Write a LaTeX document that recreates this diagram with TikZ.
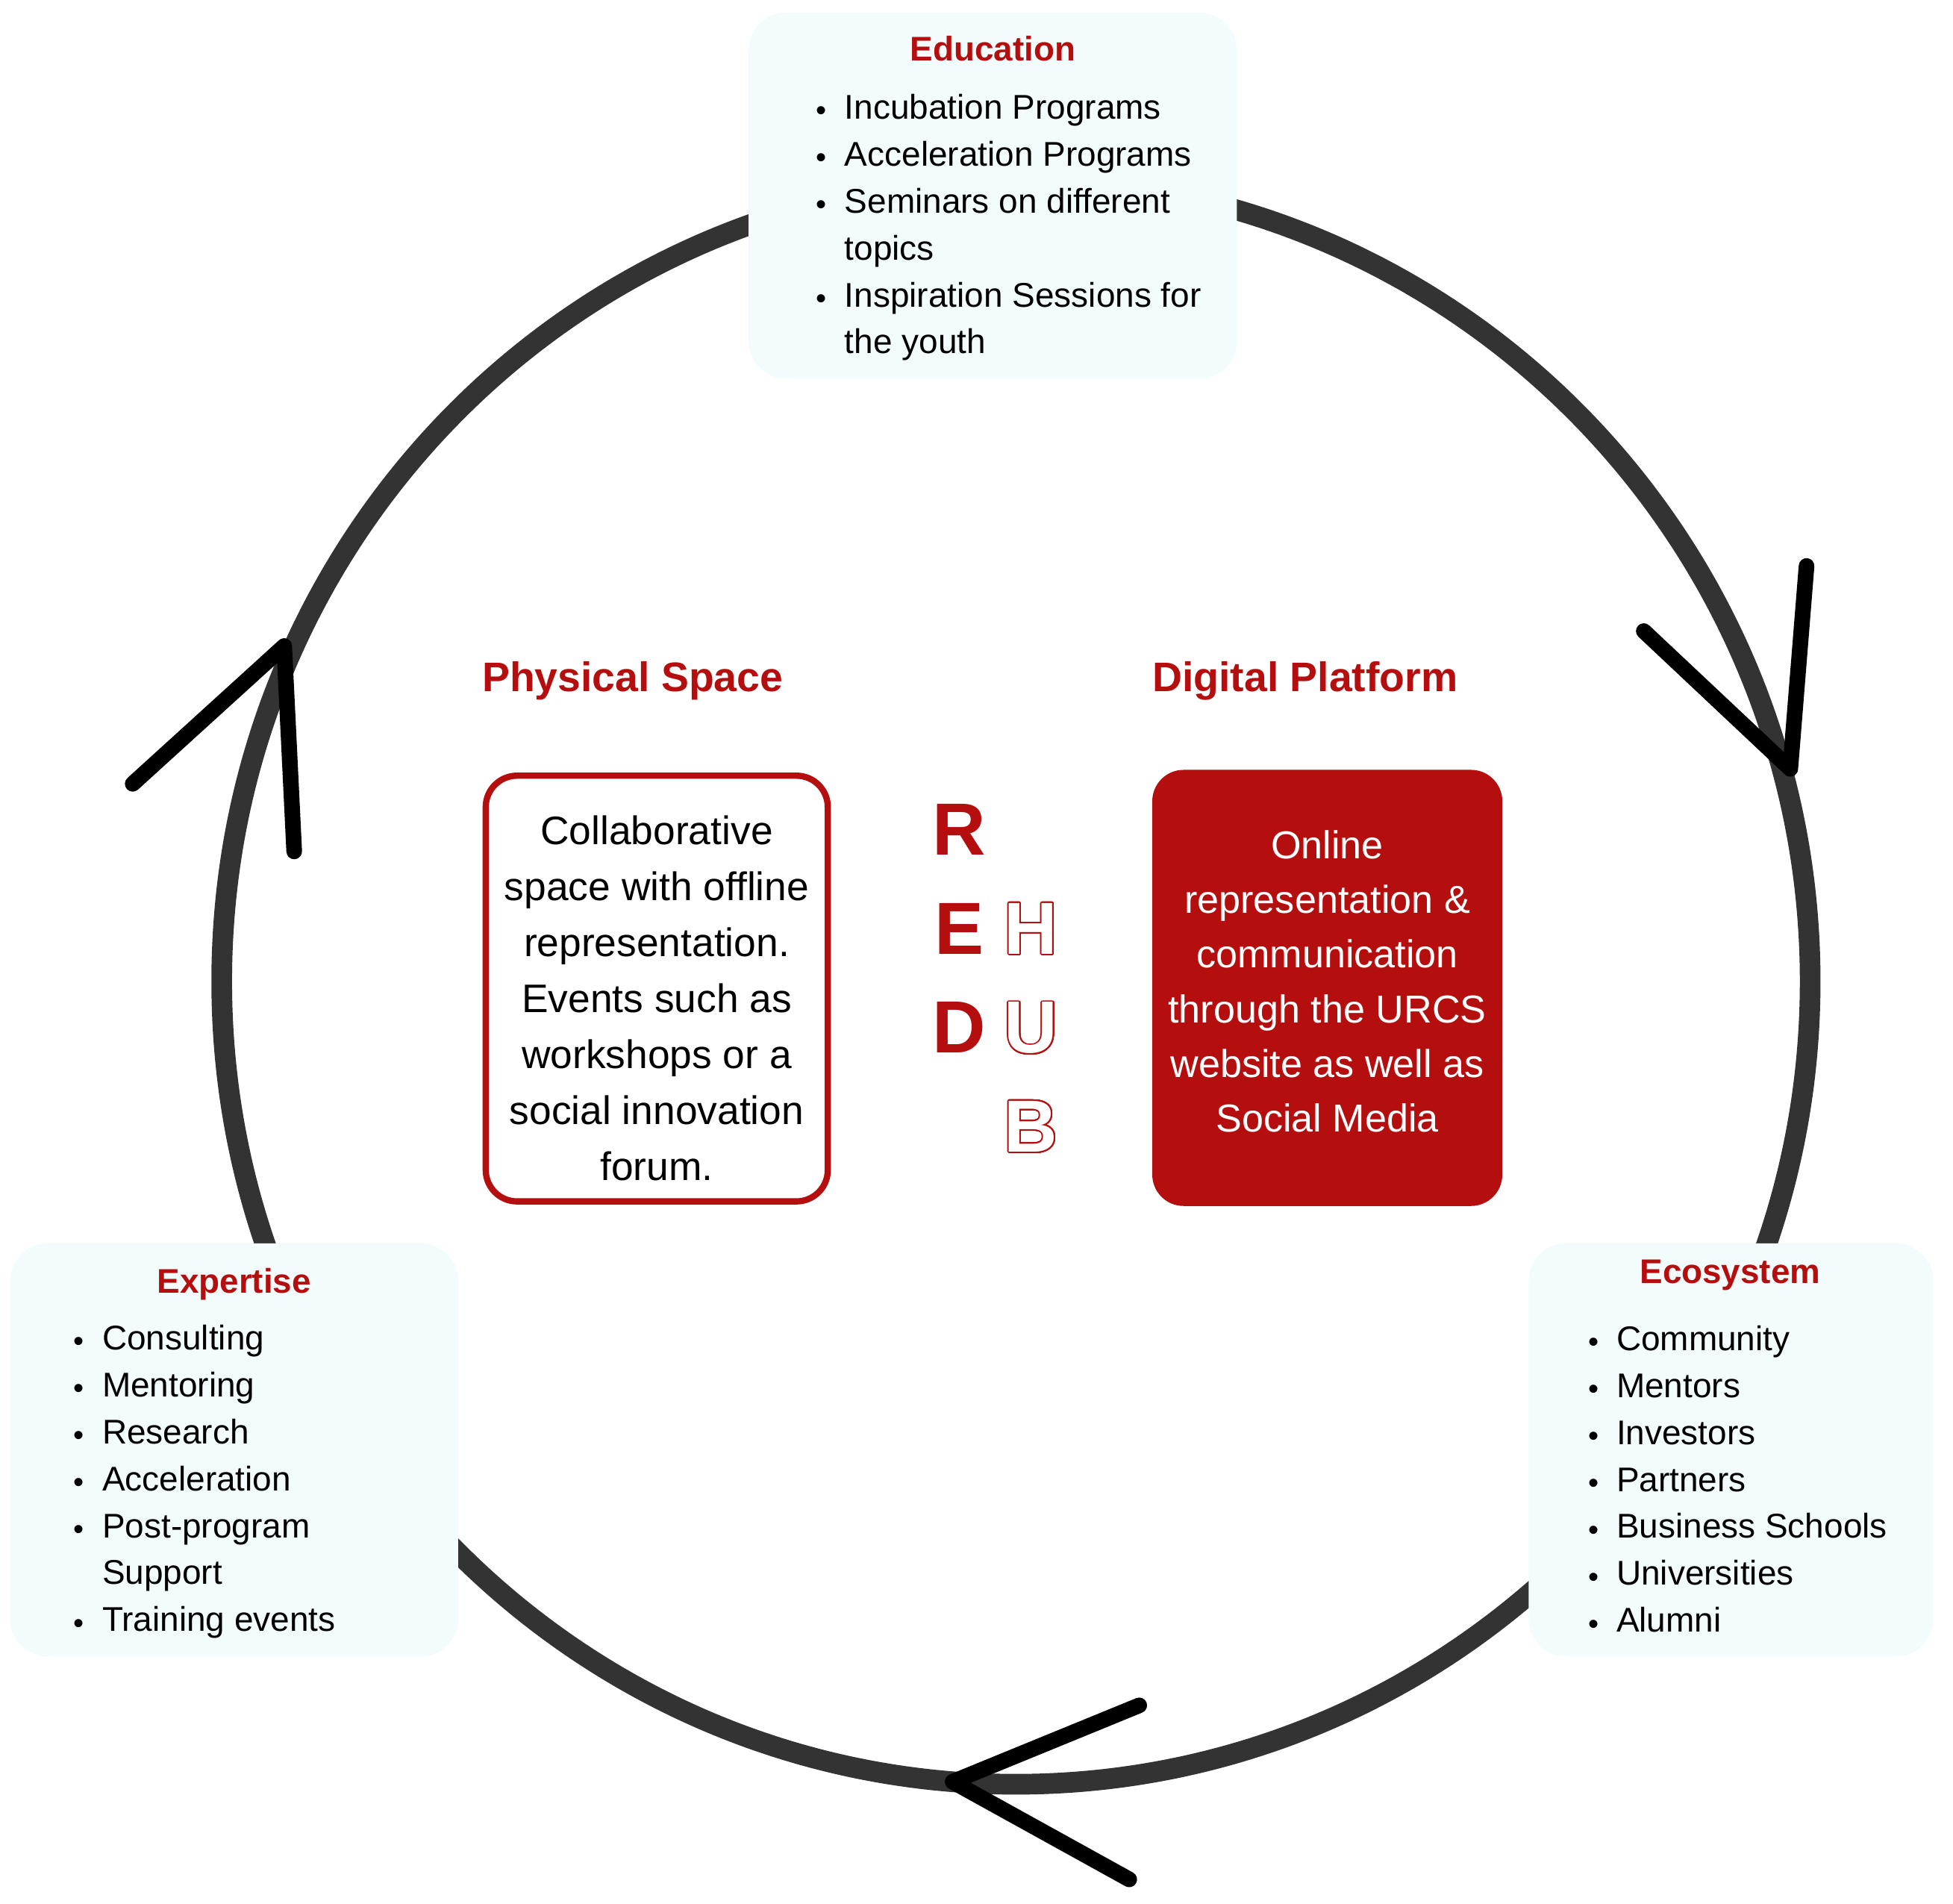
\documentclass[tikz,border=0pt]{standalone}
\usepackage{fontspec}
\setmainfont{Liberation Sans}
\usepackage{contour}
\contourlength{1.05pt}
\contournumber{32}
\definecolor{redc}{RGB}{181,14,14}
\definecolor{ringc}{RGB}{51,51,51}
\definecolor{boxc}{RGB}{242,252,253}
\newcommand\itembul{\llap{\makebox[37pt][c]{\raisebox{-1.5pt}{\fontsize{24}{24}\selectfont •}}}}
\begin{document}
\begin{tikzpicture}[x=1pt,y=-1pt,
  ring/.style={draw=ringc, line width=16.5pt},
  arrowhd/.style={draw=black, line width=12.5pt, line cap=round, line join=round},
  infobox/.style={rectangle, rounded corners=30pt, fill=boxc, draw=none, inner sep=0pt},
  boxtitle/.style={text=redc, font=\bfseries\fontsize{27.3}{30}\selectfont, inner sep=0pt, anchor=base},
  listtext/.style={font=\fontsize{27.4}{37.5}\selectfont, inner sep=0pt, anchor=base west},
  sectitle/.style={text=redc, font=\bfseries\fontsize{33}{36}\selectfont, inner sep=0pt, anchor=base west},
  bigletter/.style={text=redc, font=\bfseries\fontsize{59}{60}\selectfont, inner sep=0pt, anchor=base},
  hollowletter/.style={font=\bfseries\fontsize{59}{60}\selectfont, inner sep=0pt, anchor=base}
]
\useasboundingbox (0,0) rectangle (1560,1520.6);

% ring
\coordinate (ringcenter) at (811.5,783.8);
\draw[ring] (ringcenter) ellipse [x radius=634.4pt, y radius=641.2pt];

% boxes
\node[infobox, minimum width=390pt, minimum height=292.5pt] (edu) at (793,156.25) {};
\node[infobox, minimum width=358pt, minimum height=330pt] (exp) at (187,1158) {};
\node[infobox, minimum width=323.3pt, minimum height=330pt] (eco) at (1382.65,1158) {};

\node[rectangle, rounded corners=25pt, draw=redc, line width=5pt, fill=white,
      minimum width=273.2pt, minimum height=340pt, inner sep=0pt] (phys) at (524.6,789.5) {};
\node[rectangle, rounded corners=25pt, fill=redc, draw=none,
      minimum width=279.6pt, minimum height=348.3pt, inner sep=0pt] (digi) at (1060.2,789) {};

% arrowheads
\coordinate (la1) at (106,626);
\coordinate (lat) at (227,516);
\coordinate (la2) at (235,680);
\draw[arrowhd] (la1) -- (lat) -- (la2);
\coordinate (ra1) at (1313,504);
\coordinate (rat) at (1430,614);
\coordinate (ra2) at (1443,452);
\draw[arrowhd] (ra1) -- (rat) -- (ra2);
\coordinate (ba1) at (910,1362);
\coordinate (bat) at (761,1423);
\coordinate (ba2) at (902,1501);
\draw[arrowhd] (ba1) -- (bat) -- (ba2);

% Education
\node[boxtitle] (edutitle) at (793,48.7) {Education};
\node[listtext] (edulist) at (674.5,95) {\begin{tabular}[t]{@{}l@{}}
\itembul Incubation Programs\\
\itembul Acceleration Programs\\
\itembul Seminars on different\\
topics\\
\itembul Inspiration Sessions for\\
the youth
\end{tabular}};

% Expertise
\node[boxtitle] (exptitle) at (187,1033) {Expertise};
\node[listtext] (explist) at (81.5,1078) {\begin{tabular}[t]{@{}l@{}}
\itembul Consulting\\
\itembul Mentoring\\
\itembul Research\\
\itembul Acceleration\\
\itembul Post-program\\
Support\\
\itembul Training events
\end{tabular}};

% Ecosystem
\node[boxtitle] (ecotitle) at (1382,1025) {Ecosystem};
\node[listtext] (ecolist) at (1291,1078.5) {\begin{tabular}[t]{@{}l@{}}
\itembul Community\\
\itembul Mentors\\
\itembul Investors\\
\itembul Partners\\
\itembul Business Schools\\
\itembul Universities\\
\itembul Alumni
\end{tabular}};

% section titles
\node[sectitle] (phystitle) at (385,552) {Physical Space};
\node[sectitle] (digititle) at (920.4,552) {Digital Platform};

% box texts
\node[inner sep=0pt, anchor=base, font=\fontsize{31.8}{44.7}\selectfont] (phystext) at (524.6,674.6) {\begin{tabular}[t]{@{}c@{}}
Collaborative\\
space with offline\\
representation.\\
Events such as\\
workshops or a\\
social innovation\\
forum.
\end{tabular}};
\node[inner sep=0pt, anchor=base, text=white, font=\fontsize{31.1}{43.7}\selectfont] (digitext) at (1060.2,685.6) {\begin{tabular}[t]{@{}c@{}}
Online\\
representation \&\\
communication\\
through the URCS\\
website as well as\\
Social Media
\end{tabular}};

% RED HUB
\node[bigletter] (letR) at (766,683) {R};
\node[bigletter] (letE) at (766,762) {E};
\node[bigletter] (letD) at (766,841) {D};
\node[hollowletter] (letH) at (823.5,762) {\color{white}\contour{redc}{H}};
\node[hollowletter] (letU) at (823.5,841) {\color{white}\contour{redc}{U}};
\node[hollowletter] (letB) at (823.5,920) {\color{white}\contour{redc}{B}};
\end{tikzpicture}
\end{document}
